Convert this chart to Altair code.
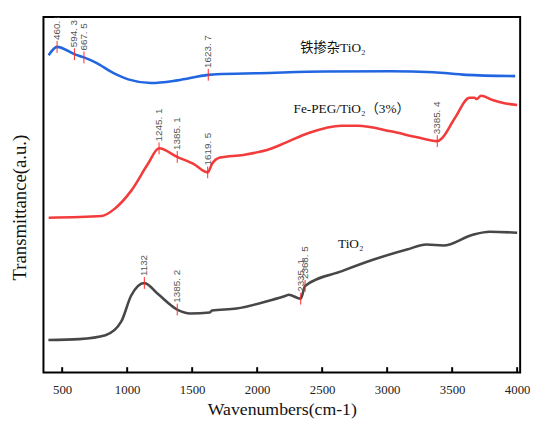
import altair as alt
import pandas as pd

# ---- curve data (wavenumber, transmittance a.u.) ----
fe_wn = [396, 460.8, 594.3, 667.5, 755, 907, 1008, 1184, 1386, 1623.7, 1689, 2015, 2523, 3028, 3356, 3606, 3985]
fe_tr = [322.3, 330.7, 323.3, 320, 315, 303.3, 297.7, 294, 296.7, 302.3, 303, 304, 305.7, 306, 305, 302.3, 301]

peg_wn = [396, 805, 907, 1033, 1159, 1245.1, 1385.1, 1513, 1619.5, 1652, 1714, 1892, 2093, 2220, 2396, 2649,
          2775, 3028, 3230, 3385.4, 3419, 3520, 3634, 3672, 3689, 3722, 3811, 3911, 4000]
peg_tr = [157.3, 159, 166.7, 185, 211.7, 227.7, 219, 211.7, 203.3, 211.7, 218.3, 221, 226.7, 233.5, 243.3, 250.7,
          250.7, 245, 239, 235, 237.7, 258.3, 279, 279, 277.7, 281, 276.7, 273.3, 271.7]

ti_wn = [394, 629, 833, 955, 1030, 1132, 1235, 1385.2, 1485, 1636, 1652, 1841, 2091, 2220, 2242, 2335.1,
         2368.5, 2652, 2902, 3152, 3303, 3432, 3659, 3788, 4000]
ti_tr = [33, 34, 38, 52, 78, 91, 80, 64, 60, 61, 63, 65, 73, 78, 79, 75,
         88, 103, 115, 125, 130, 129, 140, 143, 142]

# ---- peak markers ----
mk_wn = [460.8, 594.3, 667.5, 1623.7, 1245.1, 1385.1, 1619.5, 3385.4, 1132, 1385.2, 2335.1, 2368.5]
mk_tr = [330.7, 323.3, 320, 302.3, 227.7, 219, 203.3, 235, 91, 64, 75, 88]
mk_lab = ["460. 8", "594. 3", "667. 5", "1623. 7", "1245. 1", "1385. 1", "1619. 5", "3385. 4",
          "1132", "1385. 2", "2335. 1", "2368. 5"]

# ---- curve names ----
names = ["铁掺杂TiO₂", "Fe-PEG/TiO₂（3%）", "TiO₂"]
name_wn = [2583, 2727, 2720]
name_tr = [330, 268, 131]

tick_vals = [500, 1000, 1500, 2000, 2500, 3000, 3500, 4000]

series = ["fe", "peg", "ti"]
colors = ["#2166e0", "#f23c3c", "#474747"]

rows = []
for s, wn, tr in [("fe", fe_wn, fe_tr), ("peg", peg_wn, peg_tr), ("ti", ti_wn, ti_tr)]:
    for w, t in zip(wn, tr):
        rows.append({"s": s, "wn": w, "tr": t})
df = pd.DataFrame(rows)

mk = pd.DataFrame({"wn": mk_wn, "tr": mk_tr, "lab": mk_lab})
mk["lo"] = mk["tr"] - 6
mk["hi"] = mk["tr"] + 6
mk["ty"] = mk["tr"] + 7

nm = pd.DataFrame({"wn": name_wn, "tr": name_tr, "lab": names})
tk = pd.DataFrame({"wn": tick_vals, "y0": [0] * len(tick_vals), "y1": [5.5] * len(tick_vals)})

SERIF = "Liberation Serif, Times New Roman, DejaVu Serif, serif"
SERIF_CJK = "Liberation Serif, Times New Roman, Noto Sans CJK SC, serif"

X_DOM = [356, 4023]
Y_DOM = [0, 361]

xs = alt.X("wn:Q", scale=alt.Scale(domain=X_DOM, nice=False, zero=False),
           axis=alt.Axis(values=tick_vals, format="d", ticks=False, grid=False, domain=False,
                         labelFlush=False,
                         labelFont=SERIF, labelFontSize=13, labelColor="#222",
                         labelPadding=11, title="Wavenumbers(cm-1)",
                         titleFont=SERIF, titleFontSize=18, titleFontWeight="normal",
                         titleColor="#111", titlePadding=5))
ys = alt.Y("tr:Q", scale=alt.Scale(domain=Y_DOM, nice=False, zero=False),
           axis=alt.Axis(labels=False, ticks=False, grid=False, domain=False,
                         title="Transmittance(a.u.)", titleFont=SERIF,
                         titleFontSize=19, titleFontWeight="normal", titleColor="#111",
                         titlePadding=14, titleY=193))

lines = alt.Chart(df).mark_line(strokeWidth=2.6, interpolate="monotone").encode(
    x=xs, y=ys,
    color=alt.Color("s:N", scale=alt.Scale(domain=series, range=colors), legend=None),
    detail="s:N",
)

markers = alt.Chart(mk).mark_rule(color="#ff2a2a", strokeWidth=1).encode(
    x="wn:Q", y="lo:Q", y2="hi:Q")

mk_text = alt.Chart(mk).mark_text(angle=270, align="left", baseline="middle",
                                  font="Liberation Sans, sans-serif", fontSize=10, color="#555",
                                  clip=True).encode(
    x="wn:Q", y="ty:Q", text="lab:N")

name_text = alt.Chart(nm).mark_text(align="center", baseline="middle",
                                    font=SERIF_CJK, fontSize=13.5, color="#111").encode(
    x="wn:Q", y="tr:Q", text="lab:N")

ticks = alt.Chart(tk).mark_rule(color="#000", strokeWidth=2).encode(
    x="wn:Q", y="y0:Q", y2="y1:Q")

chart = alt.layer(lines, markers, mk_text, name_text, ticks).properties(
    width=484, height=361,
    autosize=alt.AutoSizeParams(type="none"),
    padding={"left": 36, "top": 6, "right": 10, "bottom": 48},
).configure_view(stroke="#000", strokeWidth=2)

chart.save("out.html", embed_options={"renderer": "svg", "actions": False})
